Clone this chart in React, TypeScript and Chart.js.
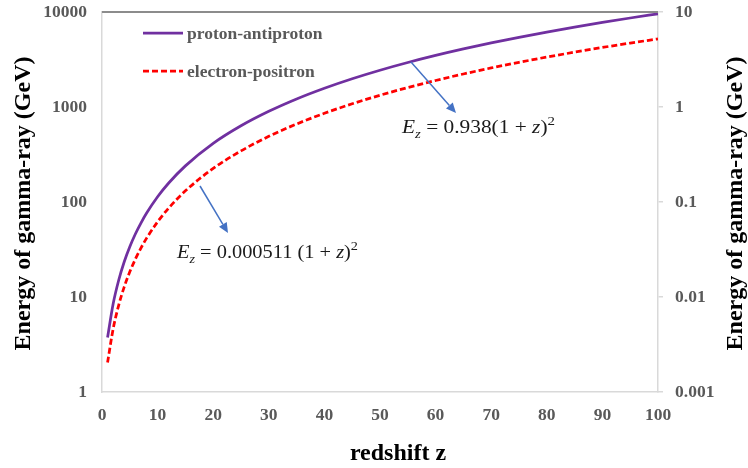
import React, { useEffect, useRef } from "react";
import { Chart, registerables } from "chart.js";

Chart.register(...registerables);

// ---- data ----
const redshift = [1, 2, 3, 4, 5, 6, 7, 8, 10, 12, 15, 20, 25, 30, 35, 40, 45, 50, 55, 60, 65, 70, 75, 80, 85, 90, 95, 100];
const protonEnergyGeV = [3.75, 8.44, 15.0, 23.5, 33.8, 46.0, 60.0, 76.0, 113.5, 158.5, 240, 414, 634, 901, 1216, 1577, 1985, 2440, 2942, 3490, 4086, 4728, 5418, 6154, 6937, 7768, 8645, 9569];
const electronEnergyGeV = [0.00204, 0.0046, 0.00818, 0.0128, 0.0184, 0.025, 0.0327, 0.0414, 0.0618, 0.0864, 0.131, 0.2254, 0.345, 0.491, 0.662, 0.859, 1.081, 1.329, 1.603, 1.901, 2.226, 2.576, 2.952, 3.353, 3.779, 4.232, 4.709, 5.213];
const seriesNames = ["proton-antiproton", "electron-positron"];
const leftTickValues = [1, 10, 100, 1000, 10000];
const rightTickValues = [0.001, 0.01, 0.1, 1, 10];
const xTitle = "redshift z";
const yTitle = "Energy of gamma-ray (GeV)";

const SERIF = "'Liberation Serif', 'Times New Roman', serif";
const TICK_COLOR = "#595959";
const AXIS_COLOR = "#D9D9D9";
const PURPLE = "#7030A0";
const RED = "#FF0000";
const BLUE = "#4472C4";

type Part = { t: string; it?: boolean; sub?: boolean; sup?: boolean };

function drawMath(ctx: CanvasRenderingContext2D, parts: Part[], x: number, baseline: number, size: number, targetWidth: number) {
  const fontFor = (p: Part) => {
    const s = p.sub || p.sup ? size * 0.7 : size;
    return `${p.it ? "italic " : ""}${s}px ${SERIF}`;
  };
  let total = 0;
  for (const p of parts) {
    ctx.font = fontFor(p);
    total += ctx.measureText(p.t).width;
  }
  const sx = targetWidth / total;
  ctx.save();
  ctx.translate(x, baseline);
  ctx.scale(sx, 1);
  ctx.fillStyle = "#1a1a1a";
  ctx.textBaseline = "alphabetic";
  ctx.textAlign = "left";
  let cx = 0;
  for (const p of parts) {
    ctx.font = fontFor(p);
    const dy = p.sub ? size * 0.25 : p.sup ? -size * 0.42 : 0;
    ctx.fillText(p.t, cx, dy);
    cx += ctx.measureText(p.t).width;
  }
  ctx.restore();
}

function drawArrow(ctx: CanvasRenderingContext2D, x1: number, y1: number, x2: number, y2: number) {
  const ang = Math.atan2(y2 - y1, x2 - x1);
  const headLen = 10;
  const headW = 4.5;
  const bx = x2 - headLen * Math.cos(ang);
  const by = y2 - headLen * Math.sin(ang);
  ctx.save();
  ctx.strokeStyle = BLUE;
  ctx.fillStyle = BLUE;
  ctx.lineWidth = 1.5;
  ctx.beginPath();
  ctx.moveTo(x1, y1);
  ctx.lineTo(bx, by);
  ctx.stroke();
  ctx.beginPath();
  ctx.moveTo(x2, y2);
  ctx.lineTo(bx + headW * Math.sin(ang), by - headW * Math.cos(ang));
  ctx.lineTo(bx - headW * Math.sin(ang), by + headW * Math.cos(ang));
  ctx.closePath();
  ctx.fill();
  ctx.restore();
}

const decorPlugin = {
  id: "decor",
  afterDraw(chart: any) {
    const ctx: CanvasRenderingContext2D = chart.ctx;
    const area = chart.chartArea;
    // top border line
    ctx.save();
    ctx.strokeStyle = "#8C8C8C";
    ctx.lineWidth = 2;
    ctx.beginPath();
    ctx.moveTo(area.left, area.top);
    ctx.lineTo(area.right, area.top);
    ctx.stroke();
    ctx.restore();

    // legend
    const legendItems = [
      { name: seriesNames[0], color: PURPLE, dash: [] as number[], y: 33 },
      { name: seriesNames[1], color: RED, dash: [6, 3], y: 71 },
    ];
    for (const it of legendItems) {
      ctx.save();
      ctx.strokeStyle = it.color;
      ctx.lineWidth = 2.75;
      ctx.setLineDash(it.dash);
      ctx.beginPath();
      ctx.moveTo(143, it.y);
      ctx.lineTo(183, it.y);
      ctx.stroke();
      ctx.setLineDash([]);
      ctx.fillStyle = TICK_COLOR;
      ctx.font = `bold 17.5px ${SERIF}`;
      ctx.textBaseline = "middle";
      ctx.textAlign = "left";
      ctx.fillText(it.name, 187, it.y + 1);
      ctx.restore();
    }

    // axis titles
    ctx.save();
    ctx.fillStyle = "#000";
    ctx.font = `bold 24px ${SERIF}`;
    ctx.textAlign = "center";
    ctx.textBaseline = "alphabetic";
    ctx.fillText(xTitle, 398, 460);
    ctx.save();
    ctx.translate(30, 203.5);
    ctx.rotate(-Math.PI / 2);
    ctx.fillText(yTitle, 0, 0);
    ctx.restore();
    ctx.save();
    ctx.translate(742, 203.5);
    ctx.rotate(-Math.PI / 2);
    ctx.fillText(yTitle, 0, 0);
    ctx.restore();
    ctx.restore();

    // annotations
    drawArrow(ctx, 411, 62, 456, 113);
    drawMath(
      ctx,
      [{ t: "E", it: true }, { t: "z", it: true, sub: true }, { t: " = 0.938(1 + " }, { t: "z", it: true }, { t: ")" }, { t: "2", sup: true }],
      402, 133, 19, 153
    );
    drawArrow(ctx, 200, 186, 228, 233);
    drawMath(
      ctx,
      [{ t: "E", it: true }, { t: "z", it: true, sub: true }, { t: " = 0.000511 (1 + " }, { t: "z", it: true }, { t: ")" }, { t: "2", sup: true }],
      177, 258, 19, 181
    );
  },
};

const fitY = (w: number) => (s: any) => {
  s.width = w;
  s.paddingTop = 0;
  s.paddingBottom = 0;
};

export default function App() {
  const canvasRef = useRef<HTMLCanvasElement | null>(null);

  useEffect(() => {
    const canvas = canvasRef.current;
    if (!canvas) return;
    const tickFont = { family: SERIF, weight: "bold" as const, size: 17.5 };
    const chart = new Chart(canvas, {
      type: "line",
      data: {
        datasets: [
          {
            label: seriesNames[0],
            data: redshift.map((z, i) => ({ x: z, y: protonEnergyGeV[i] })),
            borderColor: PURPLE,
            borderWidth: 2.75,
            pointRadius: 0,
            cubicInterpolationMode: "monotone",
            yAxisID: "y",
          },
          {
            label: seriesNames[1],
            data: redshift.map((z, i) => ({ x: z, y: electronEnergyGeV[i] })),
            borderColor: RED,
            borderWidth: 2.75,
            borderDash: [6, 3],
            pointRadius: 0,
            cubicInterpolationMode: "monotone",
            yAxisID: "y2",
          },
        ],
      },
      options: {
        responsive: false,
        animation: false,
        layout: { padding: { top: 12, left: 0, right: 0, bottom: 0 } },
        plugins: { legend: { display: false }, tooltip: { enabled: false } },
        scales: {
          x: {
            type: "linear",
            position: "bottom",
            min: 0,
            max: 100,
            ticks: { stepSize: 10, color: TICK_COLOR, font: tickFont, padding: 13, maxRotation: 0 },
            grid: { display: true, drawOnChartArea: false, drawTicks: false },
            border: { display: true, color: AXIS_COLOR, width: 1.5 },
            afterFit: (s: any) => { s.height = 76; s.paddingLeft = 0; s.paddingRight = 0; },
          },
          y: {
            type: "logarithmic",
            position: "left",
            min: 1,
            max: 10000,
            afterBuildTicks: (s: any) => { s.ticks = leftTickValues.map((v) => ({ value: v })); },
            ticks: { color: TICK_COLOR, font: tickFont, padding: 15, callback: (v: any) => String(v) },
            grid: { display: true, drawOnChartArea: false, drawTicks: false },
            border: { display: true, color: AXIS_COLOR, width: 1.5 },
            afterFit: fitY(102),
          },
          y2: {
            type: "logarithmic",
            position: "right",
            min: 0.001,
            max: 10,
            afterBuildTicks: (s: any) => { s.ticks = rightTickValues.map((v) => ({ value: v })); },
            ticks: { color: TICK_COLOR, font: tickFont, padding: 12, callback: (v: any) => String(v) },
            grid: { display: true, drawOnChartArea: false, drawTicks: true, tickLength: 5, color: AXIS_COLOR, lineWidth: 1.5 },
            border: { display: true, color: AXIS_COLOR, width: 1.5 },
            afterFit: fitY(90),
          },
        },
      } as any,
      plugins: [decorPlugin],
    });
    return () => chart.destroy();
  }, []);

  return (
    <div style={{ position: "fixed", left: 0, top: 0, width: 748, height: 468, background: "#fff" }}>
      <canvas ref={canvasRef} width={748} height={468} />
    </div>
  );
}
